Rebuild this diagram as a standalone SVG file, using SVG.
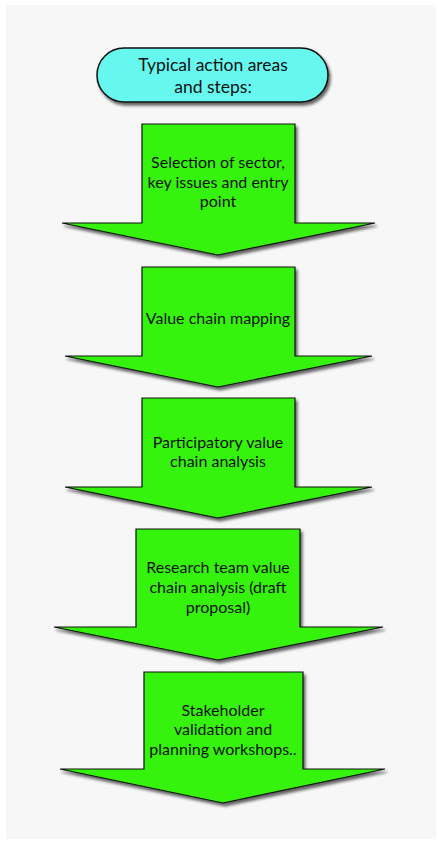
<svg xmlns="http://www.w3.org/2000/svg" width="438" height="844" viewBox="0 0 438 844">
<defs>
<filter id="sh" x="-20%" y="-20%" width="140%" height="140%">
<feGaussianBlur in="SourceAlpha" stdDeviation="1.5"/>
<feOffset dx="2" dy="3" result="b"/>
<feComponentTransfer><feFuncA type="linear" slope="0.6"/></feComponentTransfer>
<feMerge><feMergeNode/><feMergeNode in="SourceGraphic"/></feMerge>
</filter>
<style>
.arrow{fill:#36f30e;stroke:#111;stroke-width:1.2;filter:url(#sh);}
.pill{fill:#66f8ef;stroke:#111;stroke-width:1.5;filter:url(#sh);}
text{font-family:Lato,"Liberation Sans",sans-serif;font-size:16px;fill:#111;text-anchor:middle;}
.title{font-size:17.5px;}
</style>
</defs>
<rect x="6" y="5" width="430" height="834" fill="#f7f7f7"/>
<g id="start">
<rect class="pill" x="97" y="48" width="231" height="54" rx="27" ry="27"/>
<text class="title" x="213" y="71">Typical action areas</text>
<text class="title" x="213" y="93">and steps:</text>
</g>
<g id="connectors"></g>
<g id="step1">
<polygon class="arrow" points="142,124 295,124 295,223 375,223 218,255 62,223 142,223"/>
<text x="218" y="168">Selection of sector,</text>
<text x="218" y="188">key issues and entry</text>
<text x="218" y="207">point</text>
</g>
<g id="step2">
<polygon class="arrow" points="142,267 295,267 295,356 372,356 218,387 65,356 142,356"/>
<text x="218" y="324">Value chain mapping</text>
</g>
<g id="step3">
<polygon class="arrow" points="142,398 295,398 295,487 372,487 218,518 65,487 142,487"/>
<text x="218" y="448">Participatory value</text>
<text x="218" y="467">chain analysis</text>
</g>
<g id="step4">
<polygon class="arrow" points="136,529 300,529 300,627 383,627 218,660 54,627 136,627"/>
<text x="218" y="573">Research team value</text>
<text x="218" y="593">chain analysis (draft</text>
<text x="218" y="613">proposal)</text>
</g>
<g id="step5">
<polygon class="arrow" points="144,672 303,672 303,769 385,769 223,803 60,769 144,769"/>
<text x="223" y="716">Stakeholder</text>
<text x="223" y="735">validation and</text>
<text x="223" y="755">planning workshops..</text>
</g>
</svg>
